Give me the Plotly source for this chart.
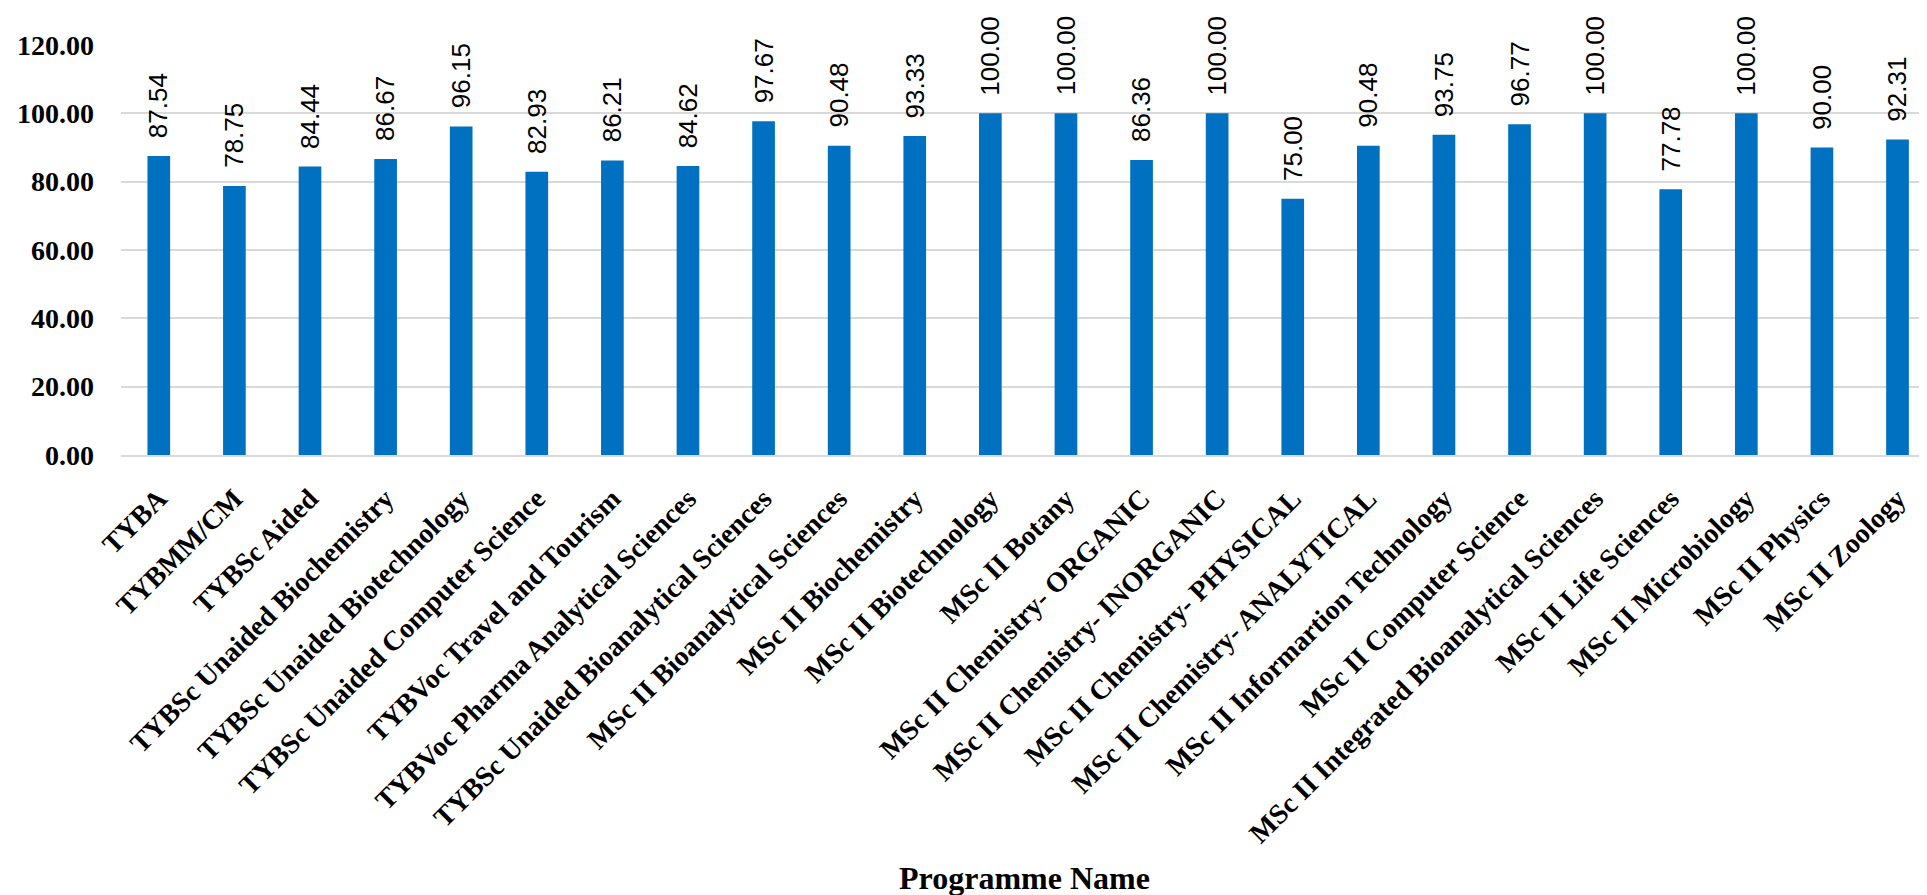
import plotly.graph_objects as go

programmes = [
    "TYBA", "TYBMM/CM", "TYBSc Aided", "TYBSc Unaided Biochemistry",
    "TYBSc Unaided Biotechnology", "TYBSc Unaided Computer Science",
    "TYBVoc Travel and Tourism", "TYBVoc Pharma Analytical Sciences",
    "TYBSc Unaided Bioanalytical Sciences", "MSc II Bioanalytical Sciences",
    "MSc II Biochemistry", "MSc II Biotechnology", "MSc II Botany",
    "MSc II Chemistry- ORGANIC", "MSc II Chemistry- INORGANIC",
    "MSc II Chemistry- PHYSICAL", "MSc II Chemistry- ANALYTICAL",
    "MSc II Informartion Technology", "MSc II Computer Science",
    "MSc II Integrated Bioanalytical Sciences", "MSc II Life Sciences",
    "MSc II Microbiology", "MSc II Physics", "MSc II Zoology",
]
pass_pct = [
    87.54, 78.75, 84.44, 86.67, 96.15, 82.93, 86.21, 84.62, 97.67, 90.48,
    93.33, 100.00, 100.00, 86.36, 100.00, 75.00, 90.48, 93.75, 96.77, 100.00,
    77.78, 100.00, 90.00, 92.31,
]
y_ticks = [0, 20, 40, 60, 80, 100, 120]
x_title = "Programme Name"

BAR = "#0070C0"
GRID = "#D9D9D9"
SERIF = "Liberation Serif, Times New Roman, serif"
SANS = "Liberation Sans, Arial, sans-serif"

fig = go.Figure()
fig.add_trace(go.Bar(
    x=list(range(len(programmes))), y=pass_pct,
    marker=dict(color=BAR, line=dict(width=0)),
    showlegend=False, hoverinfo="x+y",
))

for i, v in enumerate(pass_pct):
    fig.add_annotation(
        x=i, y=v, xref="x", yref="y", text=f"{v:.2f}", textangle=-90,
        showarrow=False, xanchor="center", yanchor="bottom", yshift=16,
        font=dict(family=SANS, size=26, color="#000000"),
    )

fig.add_annotation(
    x=0.5, y=-1.032, xref="paper", yref="paper", text=f"<b>{x_title}</b>",
    showarrow=False, xanchor="center", yanchor="middle",
    font=dict(family=SERIF, size=32, color="#000000"),
)

fig.update_layout(
    width=1919, height=887,
    margin=dict(l=113, r=0, t=37, b=440, autoexpand=False),
    paper_bgcolor="white", plot_bgcolor="white",
    bargap=0.70,
    xaxis=dict(
        tickmode="array", tickvals=list(range(len(programmes))),
        ticktext=[f"<b>{p}</b>" for p in programmes],
        tickangle=-45, range=[-0.5, 23.39],
        tickfont=dict(family=SERIF, size=28, color="#000000"),
        showgrid=False, showline=True, linecolor=GRID, linewidth=2,
        ticks="", automargin=False, ticklabelstandoff=14,
    ),
    yaxis=dict(
        range=[0, 120], tickvals=y_ticks,
        ticktext=[f"<b>{t:.2f}</b>" for t in y_ticks],
        tickfont=dict(family=SERIF, size=28, color="#000000"),
        showgrid=True, gridcolor=GRID, gridwidth=2,
        zeroline=False, showline=False, ticks="",
        automargin=False, ticklabelstandoff=26,
    ),
)

fig.write_html("out.html")
